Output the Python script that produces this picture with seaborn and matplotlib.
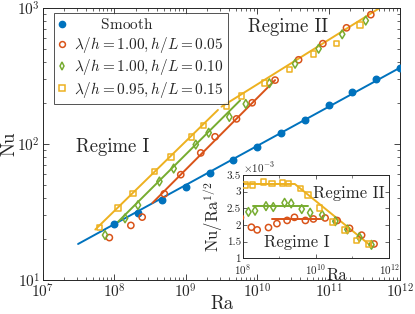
import numpy as np
import matplotlib
matplotlib.use("Agg")
import matplotlib.pyplot as plt
import seaborn as sns
from matplotlib.lines import Line2D
from matplotlib.ticker import LogLocator, FixedLocator, FuncFormatter, NullFormatter

# ---------------- data ----------------
smooth_ra = [1.0e8, 2.15e8, 4.64e8, 1.0e9, 2.15e9, 4.64e9, 1.0e10, 2.15e10, 4.64e10, 1.0e11, 2.15e11, 4.64e11, 1.0e12]
smooth_nu = [26, 31, 39, 48.5, 61, 76, 95.5, 120, 151, 194, 241, 302, 364]

red_ra = [8.5e7, 1.7e8, 2.45e8, 5.0e8, 8.5e8, 1.62e9, 2.57e9, 5.13e9, 8.5e9, 1.78e10, 3.8e10, 8.3e10, 1.78e11, 3.9e11]
red_nu = [20.5, 25.2, 29.0, 43, 59.5, 86, 113, 153, 201, 295, 416, 547, 715, 893]

green_ra = [7.4e7, 1.41e8, 2.14e8, 4.27e8, 6.76e8, 1.38e9, 2.09e9, 4.07e9, 6.92e9, 1.48e10, 3.39e10, 7.24e10, 1.55e11, 3.31e11]
green_nu = [21.4, 28.4, 35.5, 53, 66, 99, 121, 158, 197, 280, 389, 502, 641, 808]

yellow_ra = [6.2e7, 1.12e8, 1.82e8, 3.63e8, 6.17e8, 1.2e9, 1.78e9, 3.72e9, 6.03e9, 1.26e10, 2.82e10, 6.17e10, 1.29e11, 2.75e11]
yellow_nu = [24.4, 33.8, 43.2, 62.6, 80.5, 113, 137, 189, 225, 281, 352, 459, 550, 750]

# fitted lines (main panel)
smooth_fit_ra = [3.1e7, 1.0e12]
smooth_fit_nu = [18.4, 364]
red_fit_ra = [3.4e8, 1.78e10]
red_fit_nu = [36.8, 295]
green_fit_ra = [1.07e8, 5.75e9]
green_fit_nu = [26.1, 209]
yellow_fit1_ra = [5.4e7, 2.82e9]
yellow_fit1_nu = [23.5, 178]
yellow_fit2_ra = [3.16e9, 1.0e12]
yellow_fit2_nu = [188, 1240]

# fitted lines (inset, Nu/Ra^1/2 in units of 1e-3)
yellow_in_ra = [1.0e8, 2.63e9, 3.4e11]
yellow_in_c = [3.23, 3.23, 1.35]
green_in_ra = [1.86e8, 6.17e9]
green_in_c = [2.58, 2.58]
red_in_ra = [6.17e8, 1.58e10]
red_in_c = [2.17, 2.17]

labels = ["Smooth",
          r"$\lambda/h = 1.00, h/L = 0.05$",
          r"$\lambda/h = 1.00, h/L = 0.10$",
          r"$\lambda/h = 0.95, h/L = 0.15$"]

BLUE = "#0072BD"
RED = "#D95319"
YEL = "#EDB120"
GRN = "#77AC30"

# ---------------- style ----------------
sns.set_style("ticks")
plt.rcParams.update({
    "font.family": ["serif"],
    "font.serif": ["cmr10", "DejaVu Serif"],
    "mathtext.fontset": "cm",
    "axes.formatter.use_mathtext": True,
    "axes.unicode_minus": False,
    "xtick.direction": "in",
    "ytick.direction": "in",
    "xtick.top": True,
    "ytick.right": True,
    "axes.edgecolor": "#262626",
    "axes.linewidth": 0.7,
})

fig = plt.figure(figsize=(4.15, 3.14), dpi=100)
ax = fig.add_axes([0.1036, 0.1083, 0.8603, 0.8662])

def fitline(a, xs, ys, c):
    sns.lineplot(x=xs, y=ys, ax=a, color=c, lw=1.4, estimator=None, sort=False, legend=False)

def pts(a, xs, ys, c, m, filled=False, s=18):
    if filled:
        sns.scatterplot(x=xs, y=ys, ax=a, marker=m, s=s, color=c, edgecolor=c, linewidth=1.0, legend=False, zorder=5)
    else:
        sns.scatterplot(x=xs, y=ys, ax=a, marker=m, s=s, facecolors="none", edgecolor=c, linewidth=1.1, legend=False, zorder=5)

fitline(ax, smooth_fit_ra, smooth_fit_nu, BLUE)
fitline(ax, red_fit_ra, red_fit_nu, RED)
fitline(ax, green_fit_ra, green_fit_nu, GRN)
fitline(ax, yellow_fit1_ra, yellow_fit1_nu, YEL)
fitline(ax, yellow_fit2_ra, yellow_fit2_nu, YEL)

pts(ax, smooth_ra, smooth_nu, BLUE, "o", filled=True, s=22)
pts(ax, red_ra, red_nu, RED, "o", s=20)
pts(ax, green_ra, green_nu, GRN, "d", s=20)
pts(ax, yellow_ra, yellow_nu, YEL, "s", s=16)

ax.set_xscale("log")
ax.set_yscale("log")
ax.set_xlim(1e7, 1e12)
ax.set_ylim(1e1, 1e3)
ax.xaxis.set_major_locator(LogLocator(base=10, numticks=10))
ax.xaxis.set_minor_locator(LogLocator(base=10, subs=np.arange(2, 10), numticks=20))
ax.yaxis.set_minor_locator(LogLocator(base=10, subs=np.arange(2, 10), numticks=20))
ax.xaxis.set_minor_formatter(NullFormatter())
ax.yaxis.set_minor_formatter(NullFormatter())
ax.tick_params(which="major", labelsize=11, length=4, width=0.6, pad=2)
ax.tick_params(which="minor", length=2, width=0.5)
ax.set_xlabel("Ra", fontsize=13.5, labelpad=-4)
ax.set_ylabel("Nu", fontsize=13.5, labelpad=-1)

ax.text(9.3e7, 95, "Regime I", fontsize=13.5, ha="center", va="center")
ax.text(2.7e10, 725, "Regime II", fontsize=13.5, ha="center", va="center")

handles = [
    Line2D([], [], ls="none", marker="o", ms=4.5, color=BLUE, mec=BLUE),
    Line2D([], [], ls="none", marker="o", ms=4.2, mfc="none", mec=RED, mew=1.1),
    Line2D([], [], ls="none", marker="d", ms=4.2, mfc="none", mec=GRN, mew=1.1),
    Line2D([], [], ls="none", marker="s", ms=3.8, mfc="none", mec=YEL, mew=1.1),
]
leg_labels = [r"$\qquad\mathrm{" + labels[0] + "}$"] + labels[1:]
leg = ax.legend(handles, leg_labels, loc="upper left", bbox_to_anchor=(0.031, 0.982),
                fontsize=11, frameon=True, fancybox=False, edgecolor="#262626",
                handlelength=0.5, handletextpad=0.5, borderpad=0.3, labelspacing=0.16,
                borderaxespad=0.0)
leg.get_frame().set_linewidth(0.7)

# ---------------- inset ----------------
ai = fig.add_axes([0.5855, 0.1774, 0.3518, 0.2653])
fitline(ai, yellow_in_ra, yellow_in_c, YEL)
fitline(ai, green_in_ra, green_in_c, GRN)
fitline(ai, red_in_ra, red_in_c, RED)

def comp(ra, nu):
    ra = np.asarray(ra, float)
    return np.asarray(nu, float) / np.sqrt(ra) * 1e3

pts(ai, red_ra, comp(red_ra, red_nu), RED, "o", s=20)
pts(ai, green_ra, comp(green_ra, green_nu), GRN, "d", s=20)
pts(ai, yellow_ra, comp(yellow_ra, yellow_nu), YEL, "s", s=16)

ai.set_xscale("log")
ai.set_xlim(1e8, 1e12)
ai.set_ylim(1, 3.5)
ai.xaxis.set_major_locator(FixedLocator([1e8, 1e10, 1e12]))
ai.xaxis.set_minor_locator(LogLocator(base=10, subs=(1.0,), numticks=20))
ai.xaxis.set_minor_formatter(NullFormatter())
ai.yaxis.set_major_locator(FixedLocator([1, 1.5, 2, 2.5, 3, 3.5]))
ai.yaxis.set_major_formatter(FuncFormatter(lambda v, p: f"{v:g}"))
ai.tick_params(which="major", labelsize=8, length=3, width=0.5, pad=1.5)
ai.tick_params(axis="x", which="major", pad=2.5)
ai.tick_params(which="minor", length=1.8, width=0.4)
ai.set_xlabel("Ra", fontsize=12)
ai.xaxis.set_label_coords(0.64, -0.11)
ai.set_ylabel(r"Nu/Ra$^{1/2}$", fontsize=12, labelpad=1)
ai.text(0.0, 1.0, r"$\times10^{-3}$", transform=ai.transAxes, fontsize=8, ha="left", va="bottom")
ai.text(8e10, 2.96, "Regime II", fontsize=12, ha="center", va="center")
ai.text(3.0e9, 1.47, "Regime I", fontsize=12, ha="center", va="center")
ai.set_facecolor("white")

fig.savefig("out.png", dpi=100)
